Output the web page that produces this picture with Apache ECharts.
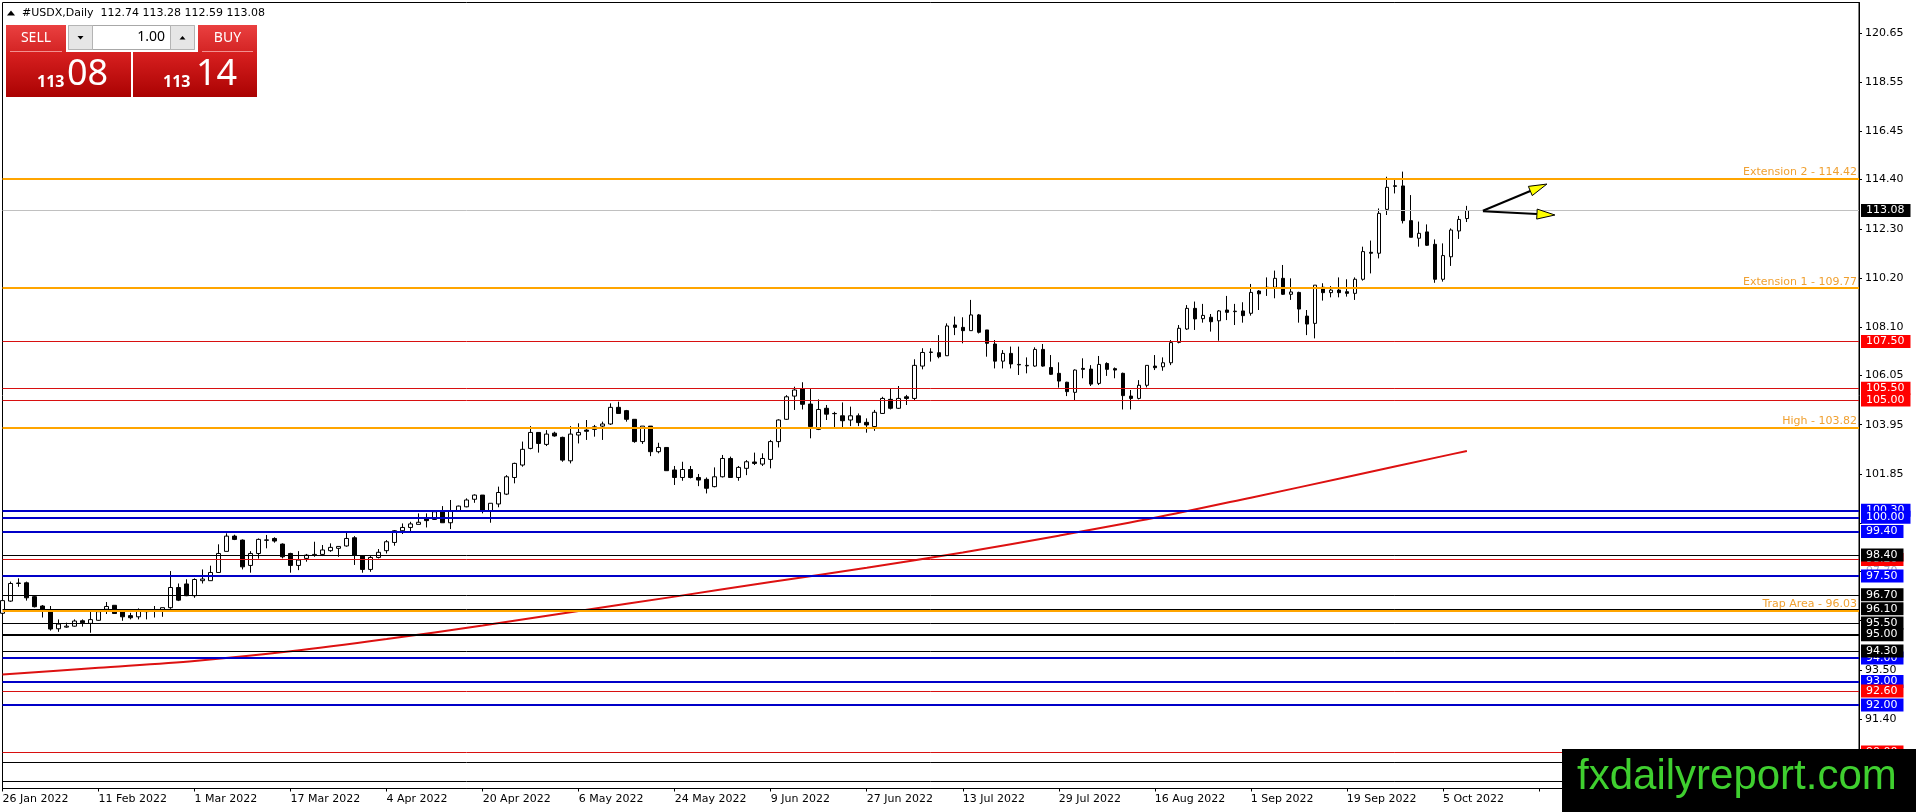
<!DOCTYPE html>
<html><head><meta charset="utf-8">
<script src="https://cdn.jsdelivr.net/npm/echarts@6/dist/echarts.min.js"></script>
<style>html,body{margin:0;padding:0;background:#fff;overflow:hidden}#c{width:1916px;height:812px}</style>
</head><body><div id="c"></div>
<script>
// ---- DATA ----
const tradingDays = [
  ['Jan 2022', [26,27,28,31]],
  ['Feb 2022', [1,2,3,4,7,8,9,10,11,14,15,16,17,18,21,22,23,24,25,28]],
  ['Mar 2022', [1,2,3,4,7,8,9,10,11,14,15,16,17,18,21,22,23,24,25,28,29,30,31]],
  ['Apr 2022', [1,4,5,6,7,8,11,12,13,14,15,18,19,20,21,22,25,26,27,28,29]],
  ['May 2022', [2,3,4,5,6,9,10,11,12,13,16,17,18,19,20,23,24,25,26,27,30,31]],
  ['Jun 2022', [1,2,3,6,7,8,9,10,13,14,15,16,17,20,21,22,23,24,27,28,29,30]],
  ['Jul 2022', [1,4,5,6,7,8,11,12,13,14,15,18,19,20,21,22,25,26,27,28,29]],
  ['Aug 2022', [1,2,3,4,5,8,9,10,11,12,15,16,17,18,19,22,23,24,25,26,29,30,31]],
  ['Sep 2022', [1,2,5,6,7,8,9,12,13,14,15,16,19,20,21,22,23,26,27,28,29,30]],
  ['Oct 2022', [3,4,5,6,7,10]]
];
const futureSlots = 49;

// [open, high, low, close]
const candles = [
[95.91,96.54,95.83,96.45],[96.43,97.26,96.40,97.18],[97.18,97.40,97.04,97.20],[97.21,97.26,96.45,96.57],
[96.62,96.65,96.16,96.19],[96.22,96.26,95.73,96.05],[95.98,96.22,95.17,95.24],[95.25,95.65,95.12,95.45],
[95.32,95.51,95.29,95.36],[95.36,95.65,95.34,95.58],[95.59,95.65,95.34,95.51],[95.48,96.00,95.08,95.64],
[95.61,96.08,95.59,95.98],[96.08,96.39,95.88,96.20],[96.25,96.25,95.88,95.90],[95.99,96.05,95.59,95.76],
[95.81,95.93,95.65,95.72],[95.76,96.12,95.65,95.99],[95.98,96.05,95.65,96.00],[96.03,96.22,95.73,96.05],
[96.05,96.15,95.76,96.15],[96.15,97.71,96.10,97.01],[97.01,97.18,96.43,96.47],[97.16,97.36,96.64,96.66],
[96.66,97.40,96.57,97.35],[97.30,97.78,97.18,97.37],[97.30,97.94,97.30,97.65],[97.65,98.85,97.64,98.46],
[98.55,99.32,98.55,99.20],[99.20,99.26,99.03,99.06],[99.03,99.06,97.78,97.89],[97.95,98.56,97.64,98.46],
[98.46,99.10,98.24,99.06],[99.02,99.25,98.68,99.04],[99.10,99.15,98.92,98.99],[98.86,98.89,98.25,98.32],
[98.46,98.49,97.64,97.95],[97.95,98.56,97.75,98.18],[98.25,98.44,98.11,98.39],[98.38,98.96,98.32,98.42],
[98.42,98.82,98.35,98.61],[98.58,98.89,98.53,98.72],[98.68,98.76,98.32,98.76],[98.78,99.34,98.75,99.10],
[99.13,99.20,97.97,98.39],[98.35,98.39,97.64,97.78],[97.78,98.35,97.68,98.29],[98.29,98.65,98.25,98.51],
[98.58,99.03,98.46,98.96],[98.93,99.46,98.79,99.43],[99.43,99.74,99.29,99.57],[99.57,99.81,99.39,99.72],
[99.70,100.17,99.70,99.79],[99.96,100.17,99.57,99.86],[99.91,100.24,99.89,100.24],[100.24,100.48,99.77,99.77],
[99.77,100.74,99.50,100.28],[100.28,100.50,100.26,100.48],[100.45,100.81,100.43,100.74],[100.77,100.98,100.62,100.95],
[100.95,100.95,100.17,100.28],[100.28,100.60,99.77,100.60],[100.57,101.31,100.43,101.06],[100.99,101.80,100.95,101.73],
[101.70,102.33,101.45,102.30],[102.23,103.23,102.16,102.90],[102.94,103.89,102.90,103.62],[103.62,103.62,102.76,103.15],
[103.11,103.72,103.04,103.55],[103.59,103.65,103.44,103.47],[103.41,103.44,102.37,102.44],[102.41,103.89,102.30,103.55],
[103.51,104.01,103.15,103.62],[103.72,104.15,103.30,103.67],[103.75,103.94,103.44,103.86],[103.89,104.08,103.30,103.98],
[103.98,104.86,103.94,104.69],[104.69,104.93,104.43,104.43],[104.55,104.58,104.08,104.18],[104.18,104.18,103.18,103.23],
[103.23,103.89,103.13,103.89],[103.89,103.89,102.61,102.80],[102.80,103.18,102.73,102.98],[102.98,102.98,101.99,101.99],
[102.02,102.19,101.38,101.70],[101.70,102.37,101.56,102.04],[102.04,102.19,101.66,101.70],[101.70,101.85,101.33,101.59],
[101.62,101.70,101.02,101.24],[101.31,102.13,101.28,101.73],[101.73,102.66,101.70,102.51],[102.51,102.59,101.70,101.70],
[101.70,102.19,101.56,102.13],[102.09,102.44,101.80,102.37],[102.36,102.76,102.23,102.30],[102.27,102.73,102.19,102.51],
[102.47,103.30,102.09,103.23],[103.23,104.18,102.98,104.15],[104.18,105.21,104.15,105.14],[105.17,105.57,104.58,105.43],
[105.47,105.76,104.60,104.82],[104.83,105.47,103.37,103.87],[103.75,105.03,103.72,104.60],[104.65,104.79,104.15,104.40],
[104.43,104.50,103.84,104.42],[104.33,104.90,103.84,104.12],[104.15,104.72,103.89,104.33],[104.33,104.43,103.89,104.04],
[104.05,104.22,103.61,103.94],[103.87,104.58,103.69,104.48],[104.43,105.14,104.41,105.07],[105.03,105.50,104.60,104.65],
[104.65,105.60,104.62,105.07],[105.14,105.22,104.79,105.07],[105.07,106.74,105.00,106.48],[106.45,107.21,106.31,107.03],
[107.03,107.21,106.64,107.05],[107.02,107.77,106.78,106.85],[106.89,108.27,106.88,108.16],[108.20,108.56,107.77,108.10],
[108.10,108.53,107.42,107.96],[107.96,109.27,107.96,108.63],[108.63,108.67,107.84,107.89],[107.99,107.99,106.85,107.42],
[107.39,107.56,106.35,106.66],[106.66,107.13,106.35,106.99],[106.99,107.28,106.35,106.54],[106.52,107.28,106.07,106.50],
[106.46,106.82,106.14,106.48],[106.45,107.25,106.42,107.16],[107.16,107.39,106.42,106.45],[106.39,106.92,106.07,106.10],
[106.14,106.61,105.53,105.81],[105.76,105.78,105.17,105.36],[105.33,106.31,105.00,106.28],[106.35,106.78,105.93,106.31],
[106.32,106.49,105.60,105.68],[105.71,106.88,105.64,106.52],[106.56,106.61,106.03,106.31],[106.34,106.39,105.93,106.28],
[106.14,106.17,104.60,105.19],[105.17,105.43,104.60,105.07],[105.07,105.85,105.03,105.63],[105.63,106.48,105.54,106.48],
[106.45,106.92,106.28,106.38],[106.42,106.82,106.25,106.59],[106.59,107.56,106.49,107.45],[107.46,108.20,107.42,108.06],
[108.03,109.05,107.99,108.91],[108.91,109.20,107.99,108.46],[108.47,109.10,108.30,108.61],[108.53,108.67,107.92,108.34],
[108.38,108.84,107.53,108.80],[108.84,109.44,108.41,108.74],[108.77,109.10,108.20,108.79],[108.80,109.17,108.30,108.60],
[108.70,109.95,108.60,109.59],[109.65,109.69,108.84,109.53],[109.79,110.23,109.44,109.81],[109.81,110.52,109.34,110.19],
[110.19,110.76,109.48,109.51],[109.51,110.19,109.27,109.61],[109.59,109.62,108.30,108.88],[108.58,108.84,107.77,108.24],
[108.27,109.90,107.63,109.90],[109.81,109.98,109.24,109.58],[109.58,109.86,109.38,109.69],[109.69,110.23,109.38,109.58],
[109.62,110.15,109.41,109.55],[109.55,110.23,109.27,110.15],[110.15,111.54,110.09,111.33],[111.30,111.80,110.40,111.26],
[111.26,113.17,111.04,112.96],[113.13,114.52,112.89,114.07],[114.11,114.41,113.81,114.14],[114.13,114.74,112.53,112.65],
[112.65,113.74,111.94,111.94],[111.90,112.61,111.54,112.11],[112.17,112.49,111.57,111.60],[111.64,111.85,110.00,110.15],
[110.15,111.68,110.05,111.16],[111.11,112.32,110.72,112.25],[112.21,112.85,111.87,112.70],[112.74,113.28,112.59,113.08]
];

// moving average, read at sample bars [barIndex, value]
const maPoints = [[0,93.30],[12,93.59],[24,93.88],[36,94.29],[48,94.81],[60,95.39],[72,96.01],[84,96.62],
  [96,97.24],[108,97.85],[120,98.50],[132,99.22],[144,99.98],[156,100.84],[168,101.72],[180,102.61],[183,102.83]];

const yTickLabels = [91.40,93.50,101.85,103.95,106.05,108.10,110.20,112.30,114.40,116.45,118.55,120.65];
const yTickMarks  = [91.40,93.50,95.60,97.70,99.75,101.85,103.95,106.05,108.10,110.20,112.30,114.40,116.45,118.55,120.65];

const hiddenLevels = [97.70];
const blueLevels  = [100.30,100.00,99.40,97.50,94.00,93.00,92.00];
const redLevels   = [107.50,105.50,105.00,98.20,92.60,90.00];
const blackLevels = [98.40,96.70,96.10,95.50,94.30,89.55,88.76];
const blackThickLevels = [95.00];
const currentPrice = [113.08];
const fibLevels = [114.42,109.77,103.82,96.03];
const fibNames  = ['Extension 2','Extension 1','High','Trap Area'];

// [startBar, startPrice, endBar, endPrice]
const arrowLines = [[185,113.07,193,114.21],[185,113.05,194,112.89]];

const headerText = '#USDX,Daily  112.74 113.28 112.59 113.08';
const sellPrice = ['113','08'];
const buyPrice  = ['113','14'];
const lotSize = '1.00';
const watermark = 'fxdailyreport.com';

// ---- BUILD ----
const categories = [];
tradingDays.forEach(([m, days]) => days.forEach(d => categories.push(d + ' ' + m)));
for (let i = 0; i < futureSlots; i++) categories.push('');

const candleData = candles.map(([o,h,l,c]) => [o,c,l,h]);
const FONT = '"DejaVu Sans"';

function levelSeries(name, values, lineColor, width, boxColor, textColor) {
  return {
    type: 'line', name, data: [], silent: true, animation: false,
    markLine: {
      symbol: ['none','none'], silent: true, animation: false,
      emphasis: {disabled: true},
      lineStyle: {color: lineColor, width: width, type: 'solid', opacity: 1},
      label: {
        show: true, position: 'end', distance: 2,
        formatter: p => Number(p.value).toFixed(2),
        backgroundColor: boxColor, color: textColor,
        padding: [1,6,0,5], fontFamily: FONT, fontSize: 11, lineHeight: 12
      },
      data: values.map(v => ({yAxis: v}))
    }
  };
}

const redGradTop = () => new echarts.graphic.LinearGradient(0,0,0,1,[{offset:0,color:'#ea4040'},{offset:1,color:'#d42424'}]);
const redGradBox = () => new echarts.graphic.LinearGradient(0,0,0,1,[{offset:0,color:'#d82020'},{offset:1,color:'#aa0202'}]);

const graphics = [
  {type:'polygon', shape:{points:[[7,15.5],[11,10.5],[15,15.5]]}, style:{fill:'#000'}, z:100},
  {type:'text', style:{text:headerText, x:22, y:13, font:'11px "DejaVu Sans"', fill:'#000', align:'left', verticalAlign:'middle'}, z:100},
  // sell
  {type:'rect', shape:{x:6,y:25,width:60,height:27}, style:{fill:redGradTop()}, z:100},
  {type:'rect', shape:{x:6,y:52,width:125,height:45}, style:{fill:redGradBox()}, z:100},
  {type:'line', shape:{x1:10,y1:51.5,x2:62,y2:51.5}, style:{stroke:'#f29090',lineWidth:1}, z:101},
  {type:'text', style:{text:'SELL', x:36, y:38, font:'14px "Noto Sans"', fill:'#fff', align:'center', verticalAlign:'middle'}, z:101},
  {type:'text', style:{text:sellPrice[0], x:37, y:82.5, font:'bold 16px "Noto Sans"', fill:'#fff', align:'left', verticalAlign:'middle'}, z:101},
  {type:'text', style:{text:sellPrice[1], x:67, y:75, font:'36px "Noto Sans"', fill:'#fff', align:'left', verticalAlign:'middle'}, z:101},
  // buy
  {type:'rect', shape:{x:198,y:25,width:59,height:27}, style:{fill:redGradTop()}, z:100},
  {type:'rect', shape:{x:133,y:52,width:124,height:45}, style:{fill:redGradBox()}, z:100},
  {type:'line', shape:{x1:202,y1:51.5,x2:253,y2:51.5}, style:{stroke:'#f29090',lineWidth:1}, z:101},
  {type:'text', style:{text:'BUY', x:227.5, y:38, font:'14px "Noto Sans"', fill:'#fff', align:'center', verticalAlign:'middle'}, z:101},
  {type:'text', style:{text:buyPrice[0], x:163, y:82.5, font:'bold 16px "Noto Sans"', fill:'#fff', align:'left', verticalAlign:'middle'}, z:101},
  {type:'text', style:{text:buyPrice[1], x:196, y:75, font:'36px "Noto Sans"', fill:'#fff', align:'left', verticalAlign:'middle'}, z:101},
  // spinner
  {type:'rect', shape:{x:68.5,y:25.5,width:126,height:24}, style:{fill:'#fff', stroke:'#a8a8a8', lineWidth:1}, z:100},
  {type:'rect', shape:{x:68.5,y:25.5,width:24,height:24}, style:{fill:'#e6e6e6', stroke:'#b4b4b4', lineWidth:1}, z:101},
  {type:'rect', shape:{x:170.5,y:25.5,width:24,height:24}, style:{fill:'#e6e6e6', stroke:'#b4b4b4', lineWidth:1}, z:101},
  {type:'polygon', shape:{points:[[77.5,36],[83.5,36],[80.5,39.5]]}, style:{fill:'#000'}, z:102},
  {type:'polygon', shape:{points:[[179.5,39.5],[185.5,39.5],[182.5,36]]}, style:{fill:'#000'}, z:102},
  {type:'text', style:{text:lotSize, x:165, y:37.5, font:'14px "Noto Sans"', fill:'#000', align:'right', verticalAlign:'middle'}, z:102},
  // watermark
  {type:'rect', shape:{x:1562,y:749,width:354,height:63}, style:{fill:'#000'}, z:100},
  {type:'text', style:{text:watermark, x:1577, y:777, font:'42px "Liberation Sans"', fill:'#3fcf2f', align:'left', verticalAlign:'middle'}, z:101}
];

const chart = echarts.init(document.getElementById('c'));
chart.setOption({
  animation: false,
  backgroundColor: '#fff',
  textStyle: {fontFamily: FONT},
  grid: {left: 2.5, right: 57, top: 2.5, bottom: 23.5, show: true, borderColor: '#000', borderWidth: 1,
         backgroundColor: '#fff', containLabel: false, outerBoundsMode: 'none'},
  xAxis: {
    type: 'category', data: categories, boundaryGap: false,
    axisLine: {show: true, lineStyle: {color: '#000', width: 1}},
    axisTick: {show: true, interval: 11, length: 3, lineStyle: {color: '#000'}},
    axisLabel: {interval: 11, align: 'left', color: '#000', fontSize: 11, margin: 5, fontFamily: FONT},
    splitLine: {show: false}
  },
  yAxis: {
    type: 'value', position: 'right', min: 88.44, max: 121.95,
    axisLine: {show: true, lineStyle: {color: '#000', width: 1}},
    axisTick: {show: true, length: 3, customValues: yTickMarks, lineStyle: {color: '#000'}},
    axisLabel: {customValues: yTickLabels, formatter: v => Number(v).toFixed(2), color: '#000',
                fontSize: 11, margin: 6, fontFamily: FONT},
    splitLine: {show: false}
  },
  series: [
    {type: 'candlestick', data: candleData, barWidth: 4, silent: true,
     itemStyle: {color: '#fff', color0: '#000', borderColor: '#000', borderColor0: '#000', borderWidth: 1}},
    {type: 'line', data: maPoints, showSymbol: false, smooth: 0.3, silent: true,
     lineStyle: {color: '#dd1111', width: 2}},
    levelSeries('hidden', hiddenLevels, 'rgba(255,255,255,0)', 1, '#ffffff', '#a0a8c0'),
    levelSeries('blue', blueLevels, '#0000c8', 2, '#0000ff', '#ffffff'),
    levelSeries('red', redLevels, '#d81010', 1, '#ff0000', '#ffffff'),
    levelSeries('black', blackLevels, '#000000', 1, '#000000', '#ffffff'),
    levelSeries('blackThick', blackThickLevels, '#000000', 2, '#000000', '#ffffff'),
    levelSeries('current', currentPrice, '#c0c0c0', 1, '#000000', '#ffffff'),
    {
      type: 'line', name: 'fib', data: [], silent: true,
      markLine: {
        symbol: ['none','none'], silent: true, animation: false, emphasis: {disabled: true},
        lineStyle: {color: '#FFA500', width: 2, type: 'solid', opacity: 1},
        label: {show: true, position: 'insideEndTop', distance: [2, 1],
                formatter: p => fibNames[p.dataIndex] + ' - ' + Number(p.value).toFixed(2),
                color: '#F0A030', fontFamily: FONT, fontSize: 11},
        data: fibLevels.map(v => ({yAxis: v}))
      }
    },
    {
      type: 'custom', data: arrowLines, silent: true, z: 5,
      encode: {x: 0, y: 1},
      renderItem: (params, api) => {
        const s = api.coord([api.value(0), api.value(1)]);
        const e = api.coord([api.value(2), api.value(3)]);
        const dx = e[0]-s[0], dy = e[1]-s[1], len = Math.hypot(dx, dy);
        const ux = dx/len, uy = dy/len, L = 18, W = 5;
        const bx = e[0]-ux*L, by = e[1]-uy*L;
        return {type: 'group', children: [
          {type: 'line', shape: {x1: s[0], y1: s[1], x2: bx, y2: by}, style: {stroke: '#000', lineWidth: 2}},
          {type: 'polygon', shape: {points: [e, [bx-uy*W, by+ux*W], [bx+uy*W, by-ux*W]]},
           style: {fill: '#ffff00', stroke: '#000', lineWidth: 1}}
        ]};
      }
    }
  ],
  graphic: graphics
});
</script></body></html>
